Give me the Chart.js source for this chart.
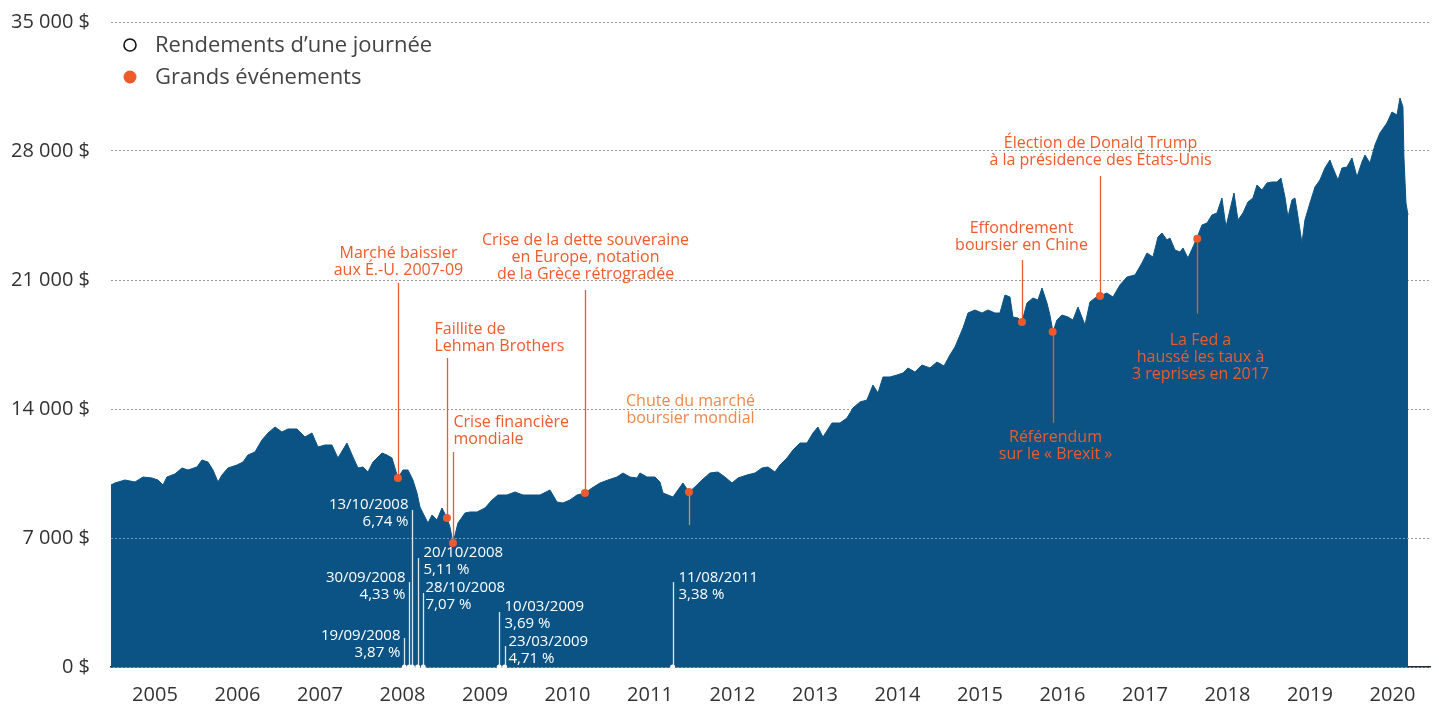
<!DOCTYPE html>
<html lang="fr"><head><meta charset="utf-8">
<script src="https://cdn.jsdelivr.net/npm/chart.js@4.4.1/dist/chart.umd.min.js"></script>
<style>html,body{margin:0;padding:0;background:#fff;}#wrap{width:1439px;height:706px;position:relative;}</style>
</head><body><div id="wrap"><canvas id="c" width="1439" height="706"></canvas></div>
<script>
// ---------- DATA ----------
const yearTicks = [2005,2006,2007,2008,2009,2010,2011,2012,2013,2014,2015,2016,2017,2018,2019,2020];
const valueTicks = [0,7000,14000,21000,28000,35000];

const times = [
 2004.467,2004.515,2004.636,2004.758,2004.855,2004.964,2005.036,2005.097,2005.145,2005.242,2005.327,2005.400,2005.509,2005.570,2005.642,2005.703,2005.764,2005.812,2005.885,2005.994,
 2006.067,2006.127,2006.212,2006.297,2006.370,2006.455,2006.539,2006.612,2006.721,2006.818,2006.903,2006.976,2007.061,2007.145,2007.218,2007.327,2007.400,2007.461,2007.521,2007.582,2007.642,
 2007.667,2007.752,2007.812,2007.873,2007.945,2008.006,2008.067,2008.127,2008.176,2008.212,2008.248,2008.309,2008.358,2008.418,2008.479,2008.539,2008.576,2008.612,2008.673,2008.758,2008.818,2008.903,
 2009.000,2009.085,2009.158,2009.267,2009.364,2009.461,2009.570,2009.667,2009.788,2009.873,2009.945,2010.030,2010.115,2010.212,2010.297,2010.394,2010.491,2010.600,2010.673,2010.758,2010.842,
 2010.879,2010.964,2011.061,2011.121,2011.158,2011.218,2011.279,2011.339,2011.400,2011.473,2011.545,2011.630,2011.727,2011.824,2011.909,2011.994,
 2012.067,2012.176,2012.273,2012.358,2012.430,2012.515,2012.576,2012.661,2012.733,2012.818,2012.903,2012.976,
 2013.036,2013.097,2013.206,2013.303,2013.388,2013.461,2013.545,2013.630,2013.703,2013.764,2013.824,2013.909,2013.994,2014.067,2014.127,
 2014.212,2014.297,2014.394,2014.479,2014.564,2014.636,2014.697,
 2014.794,2014.855,2014.939,2015.024,2015.097,2015.182,2015.242,2015.303,2015.364,2015.400,2015.461,2015.509,2015.570,2015.642,2015.703,2015.752,2015.812,2015.848,2015.885,2015.933,2015.994,
 2016.067,2016.127,2016.188,2016.273,2016.333,2016.394,2016.455,2016.539,2016.612,2016.697,2016.782,2016.879,2016.964,2017.024,2017.097,2017.158,2017.206,2017.267,
 2017.303,2017.364,2017.424,2017.461,2017.521,2017.582,2017.630,2017.691,2017.752,2017.812,2017.873,2017.933,2017.982,
 2018.030,2018.079,2018.127,2018.188,2018.248,2018.309,2018.358,2018.418,2018.479,2018.539,2018.600,2018.648,2018.697,2018.733,2018.782,2018.818,2018.855,2018.903,2018.939,
 2019.000,2019.061,2019.121,2019.182,2019.242,2019.279,2019.339,2019.388,2019.448,2019.509,2019.570,2019.630,2019.667,2019.727,2019.788,2019.848,2019.933,2019.994,
 2020.055,2020.091,2020.127,2020.139,2020.164,2020.188
];
const values = [
 9876,9985,10147,10039,10310,10256,10147,9876,10310,10473,10799,10690,10853,11233,11124,10690,10039,10419,10799,10961,
 11124,11504,11667,12318,12698,13023,12752,12915,12915,12481,12698,11938,12047,12047,11341,12155,11395,10799,10853,10581,11124,
 11233,11612,11504,11341,10256,10690,10690,10147,9442,8682,8357,7814,8248,7977,8628,8085,7597,6729,7814,8357,8411,8411,
 8628,9062,9333,9333,9496,9333,9333,9333,9605,8954,8899,9062,9333,9442,9713,9985,10147,10310,10527,10310,10256,
 10527,10310,10310,10039,9442,9333,9225,9605,9985,9496,9768,10147,10527,10581,10310,9985,
 10256,10419,10527,10799,10853,10581,10961,11341,11775,12155,12155,12698,
 13023,12481,13240,13240,13512,14054,14380,14488,15302,14868,15737,15737,15845,15954,16225,
 16008,16388,16225,16551,16333,16930,17364,
 18395,19209,19372,19209,19372,19209,19209,20186,20078,18992,18938,18721,19752,20023,19915,20566,19752,19101,18178,18830,19101,
 18992,18830,19535,18558,19806,20023,20132,20295,20078,20729,21163,21271,21923,22465,22248,23334,23551,23171,
 23279,22628,22520,22737,22194,22791,23279,23985,24093,24527,24636,25450,23876,
 24799,25721,24256,24636,25233,25450,26155,25884,26264,26318,26318,26535,25504,24419,25341,25450,24419,23008,24256,
 25178,26047,26427,27078,27512,27078,26427,27078,27132,27620,26589,27403,27783,27349,28326,28977,29520,30117,
 29954,30876,30388,27675,25178,24527
];

const eventLabels = [
 "Marché baissier\naux É.-U. 2007-09",
 "Faillite de\nLehman Brothers",
 "Crise financière\nmondiale",
 "Crise de la dette souveraine\nen Europe, notation\nde la Grèce rétrogradée",
 "Chute du marché\nboursier mondial",
 "Effondrement\nboursier en Chine",
 "Référendum\nsur le « Brexit »",
 "Élection de Donald Trump\nà la présidence des États-Unis",
 "La Fed a\nhaussé les taux à\n3 reprises en 2017"
];
const eventTimes  = [2007.945,2008.539,2008.612,2010.212,2011.473,2015.509,2015.881,2016.455,2017.634];
const eventValues = [10256,8085,6729,9442,9496,18721,18195,20132,23241];

const returnDates = ["19/09/2008","30/09/2008","13/10/2008","20/10/2008","28/10/2008","10/03/2009","23/03/2009","11/08/2011"];
const returnPcts  = ["3,87 %","4,33 %","6,74 %","5,11 %","7,07 %","3,69 %","4,71 %","3,38 %"];
const returnTimes = [2008.022,2008.082,2008.119,2008.184,2008.252,2009.173,2009.239,2011.275];

const legendLabels = ["Rendements d’une journée","Grands événements"];

// ---------- STYLE / LAYOUT ----------
const AREA = '#0a5384';
const ORANGE = '#ef5a2c';
const ORANGE_LIGHT = '#f0874a';
const FONT = '"Open Sans", "DejaVu Sans", sans-serif';

// label placement (pixel offsets relative to each mark)
const eventLayout = [
 {align:'center', dx:0,  textDy:-225, lineEnd:-195},
 {align:'left',   dx:-13,textDy:-189, lineEnd:-160},
 {align:'left',   dx:0,  textDy:-121, lineEnd:-91},
 {align:'center', dx:0,  textDy:-253, lineEnd:-203},
 {align:'center', dx:1,  textDy:-91,  lineEnd:33, light:true},
 {align:'center', dx:-1, textDy:-94,  lineEnd:-62},
 {align:'center', dx:2,  textDy:106,  lineEnd:91},
 {align:'center', dx:0,  textDy:-153, lineEnd:-120},
 {align:'center', dx:3,  textDy:102,  lineEnd:75}
];
const returnLayout = [
 {align:'right', dx:-4, textDy:-31,  lineTop:-29},
 {align:'right', dx:-4, textDy:-89,  lineTop:-85},
 {align:'right', dx:-4, textDy:-162, lineTop:-157},
 {align:'left',  dx:5,  textDy:-114, lineTop:-109},
 {align:'left',  dx:2,  textDy:-79,  lineTop:-74},
 {align:'left',  dx:5,  textDy:-60,  lineTop:-55},
 {align:'left',  dx:3,  textDy:-25,  lineTop:-21},
 {align:'left',  dx:5,  textDy:-89,  lineTop:-85}
];

const annotationPlugin = {
  id: 'annotations',
  afterDatasetDraw(chart, args) {
    if (args.index !== 0) return;
    const {ctx, chartArea} = chart;
    const xs = chart.scales.x, ys = chart.scales.y;
    ctx.save();
    // dotted grid line visible over the area
    const y7 = ys.getPixelForValue(7000);
    ctx.strokeStyle = 'rgba(170,185,200,0.75)';
    ctx.lineWidth = 1;
    ctx.setLineDash([2,2]);
    ctx.beginPath();
    ctx.moveTo(chartArea.left, y7 + 0.5);
    ctx.lineTo(xs.getPixelForValue(times[times.length-1]), y7 + 0.5);
    ctx.stroke();
    ctx.setLineDash([]);

    // one-day returns
    const base = ys.getPixelForValue(0);
    ctx.font = '15px ' + FONT;
    ctx.textBaseline = 'middle';
    returnTimes.forEach((t, i) => {
      const L = returnLayout[i];
      const px = Math.round(xs.getPixelForValue(t)) + 0.5;
      ctx.strokeStyle = 'rgba(255,255,255,0.85)';
      ctx.lineWidth = 1.3;
      ctx.beginPath();
      ctx.moveTo(px, base);
      ctx.lineTo(px, base + L.lineTop);
      ctx.stroke();
      ctx.fillStyle = '#ffffff';
      ctx.textAlign = L.align;
      ctx.fillText(returnDates[i], px + L.dx, base + L.textDy);
      ctx.fillText(returnPcts[i], px + L.dx, base + L.textDy + 16.5);
    });

    // major events
    ctx.font = '16px ' + FONT;
    eventTimes.forEach((t, i) => {
      const L = eventLayout[i];
      const px = Math.round(xs.getPixelForValue(t)) + 0.5;
      const py = ys.getPixelForValue(eventValues[i]);
      const col = L.light ? ORANGE_LIGHT : ORANGE;
      ctx.strokeStyle = col;
      ctx.lineWidth = 1.3;
      ctx.beginPath();
      ctx.moveTo(px, py);
      ctx.lineTo(px, py + L.lineEnd);
      ctx.stroke();
      ctx.fillStyle = col;
      ctx.textAlign = L.align;
      eventLabels[i].split('\n').forEach((line, k) => {
        ctx.fillText(line, px + L.dx, py + L.textDy + k * 17);
      });
    });
    ctx.restore();
  },
  afterDraw(chart) {
    const {ctx, chartArea} = chart;
    ctx.save();
    const cx = chartArea.left + 19;
    // hollow circle
    ctx.strokeStyle = '#111';
    ctx.lineWidth = 1.6;
    ctx.beginPath(); ctx.arc(cx, chartArea.top + 23, 6, 0, Math.PI*2); ctx.stroke();
    ctx.fillStyle = ORANGE;
    ctx.beginPath(); ctx.arc(cx, chartArea.top + 55, 6.5, 0, Math.PI*2); ctx.fill();
    ctx.fillStyle = '#444';
    ctx.font = '22px ' + FONT;
    ctx.textAlign = 'left';
    ctx.textBaseline = 'middle';
    ctx.fillText(legendLabels[0], cx + 25, chartArea.top + 24);
    ctx.fillText(legendLabels[1], cx + 25, chartArea.top + 56);
    ctx.restore();
  }
};

const fmtMoney = v => v === 0 ? '0 $' : (v / 1000) + ' 000 $';

new Chart(document.getElementById('c'), {
  type: 'line',
  data: {
    datasets: [
      {
        label: 'Valeur du placement',
        data: times.map((t, i) => ({x: t, y: values[i]})),
        fill: 'origin',
        backgroundColor: AREA,
        borderColor: AREA,
        borderWidth: 1,
        pointRadius: 0,
        tension: 0,
        order: 3
      },
      {
        label: legendLabels[1],
        type: 'scatter',
        data: eventTimes.map((t, i) => ({x: t, y: eventValues[i]})),
        pointRadius: 4,
        pointBackgroundColor: ORANGE,
        pointBorderWidth: 0,
        order: 1
      },
      {
        label: legendLabels[0],
        type: 'scatter',
        data: returnTimes.map(t => ({x: t, y: 0})),
        pointRadius: 2.5,
        pointBackgroundColor: '#ffffff',
        pointBorderWidth: 0,
        clip: false,
        order: 2
      }
    ]
  },
  options: {
    responsive: false,
    animation: false,
    devicePixelRatio: 1,
    events: [],
    layout: {padding: {top: 22, right: 9, bottom: 0, left: 0}},
    plugins: {legend: {display: false}, tooltip: {enabled: false}},
    scales: {
      x: {
        type: 'linear',
        min: 2004.467,
        max: 2020.455,
        afterBuildTicks: axis => { axis.ticks = yearTicks.map(v => ({value: v})); },
        afterFit: s => { s.height = 39; s.paddingLeft = 0; s.paddingRight = 0; },
        grid: {display: false, drawTicks: false},
        border: {display: true, color: '#1d2a36', width: 1.5},
        ticks: {
          autoSkip: false, maxRotation: 0, padding: 16,
          color: '#333', font: {family: FONT, size: 20},
          callback: v => String(v)
        }
      },
      y: {
        min: 0, max: 35000,
        afterBuildTicks: axis => { axis.ticks = valueTicks.map(v => ({value: v})); },
        afterFit: s => { s.width = 111; s.paddingTop = 0; s.paddingBottom = 0; },
        grid: {color: '#9a9a9a', lineWidth: 1, drawTicks: false},
        border: {display: false, dash: [2, 2]},
        ticks: {
          padding: 21, color: '#333', font: {family: FONT, size: 20},
          callback: v => fmtMoney(v)
        }
      }
    }
  },
  plugins: [annotationPlugin]
});
</script>
</body></html>
